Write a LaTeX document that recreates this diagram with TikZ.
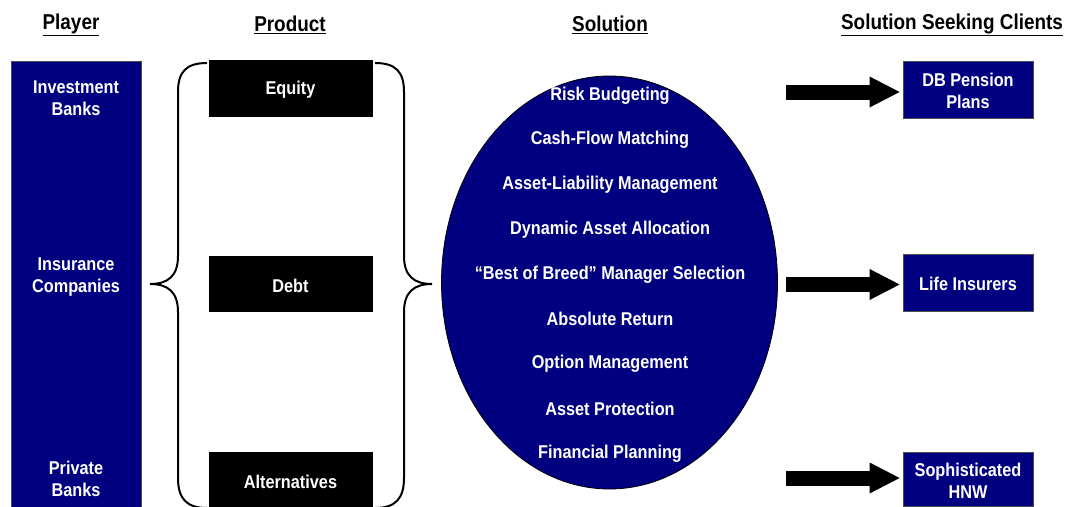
\documentclass[tikz,border=0pt]{standalone}
\usepackage{fontspec}
\setmainfont{Liberation Sans}[FakeStretch=0.88]
\usepackage{tikz}
\usetikzlibrary{shapes.geometric,arrows.meta}
\definecolor{navy}{RGB}{0,0,128}

\begin{document}
\begin{tikzpicture}[x=1pt, y=-1pt,
	col head/.style={font=\fontsize{21.5}{24}\selectfont\bfseries},
	box text/.style={font=\fontsize{18.5}{22}\selectfont\bfseries, text=white, align=center, yshift=-1.5pt},
	navy box/.style={draw=black!70, fill=navy, line width=0.8pt, inner sep=0pt},
	prod box/.style={fill=black, minimum width=164pt, inner sep=0pt},
	client box/.style={navy box, minimum width=130pt, minimum height=57pt},
	brace/.style={line width=2pt},
	big arrow/.style={line width=15pt, -{Triangle[length=30pt,width=31pt,line width=0pt]}, shorten >=3pt}]
		\useasboundingbox (0,0) rectangle (1065,506);
		\node[col head] (h1) at (71,25) {\underline{Player}};
		\node[col head] (h2) at (290,25) {\underline{Product}};
		\node[col head] (h3) at (610,25) {\underline{Solution}};
		\node[col head] (h4) at (952,25) {\underline{Solution Seeking Clients}};
		\node[navy box, minimum width=130pt, minimum height=447pt] (players) at (76,284.5) {};
		\node[box text] (inv) at (76,97) {Investment\\Banks};
		\node[box text] (ins) at (76,276) {Insurance\\Companies};
		\node[box text] (priv) at (76,477) {Private\\Banks};
		\node[prod box, minimum height=57pt] (equity) at (290.5,88.5) {};
		\node[prod box, minimum height=56pt] (debt) at (290.5,284) {};
		\node[prod box, minimum height=56pt] (alt) at (290.5,480) {};
		\node[box text] at (equity) {Equity};
		\node[box text] at (debt) {Debt};
		\node[box text] at (alt) {Alternatives};
		\draw[brace] (207,63) .. controls (186,63) and (178,72) .. (178,92) -- (178,256)
			.. controls (178,276) and (168,284) .. (150,284)
			.. controls (168,284) and (178,292) .. (178,312) -- (178,478)
			.. controls (178,498) and (186,508) .. (207,508);
		\draw[brace] (375,63) .. controls (396,63) and (404,72) .. (404,92) -- (404,256)
			.. controls (404,276) and (414,284) .. (432,284)
			.. controls (414,284) and (404,292) .. (404,312) -- (404,478)
			.. controls (404,498) and (396,508) .. (375,508);
		\node[ellipse, draw=black, fill=navy, line width=0.8pt, minimum width=336pt, minimum height=413pt, inner sep=0pt] (sol) at (609.5,282.5) {};
		\foreach \t [count=\i from 0] in {Risk Budgeting, Cash-Flow Matching, Asset-Liability Management,
			Dynamic Asset Allocation, “Best of Breed” Manager Selection, Absolute Return,
			Option Management, Asset Protection, Financial Planning}{
		  \node[box text] (s\i) at (610,94+44.75*\i) {\t};
		}
		\node[client box] (db) at (968,89.5) {};
		\node[client box] (life) at (968,282.5) {};
		\node[client box, minimum height=54pt] (hnw) at (968,479) {};
		\node[box text] at (db) {DB Pension\\Plans};
		\node[box text] at (life) {Life Insurers};
		\node[box text] at (hnw) {Sophisticated\\HNW};
		\coordinate (a1) at (786,92);
		\coordinate (a2) at (786,284.5);
		\coordinate (a3) at (786,478);
		\draw[big arrow] (a1) -- (db.west |- a1);
		\draw[big arrow] (a2) -- (life.west |- a2);
		\draw[big arrow] (a3) -- (hnw.west |- a3);
\end{tikzpicture}
\end{document}
